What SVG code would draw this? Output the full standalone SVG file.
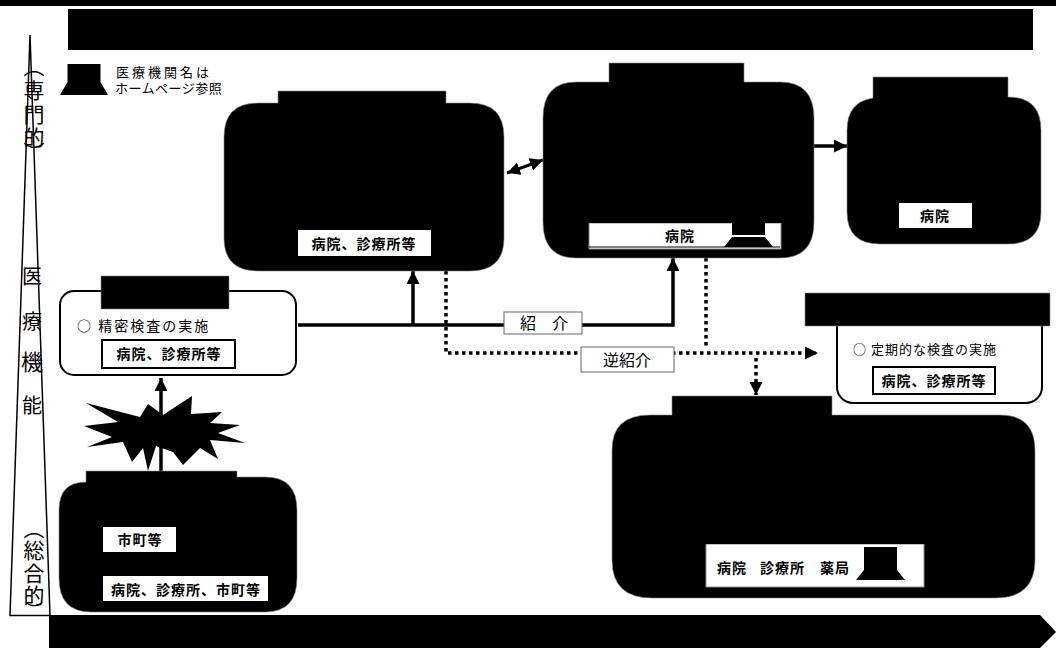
<svg xmlns="http://www.w3.org/2000/svg" width="1056" height="648" viewBox="0 0 1056 648">
<style>
text{font-family:"Noto Sans CJK JP","Liberation Sans",sans-serif;fill:#000}
.b{font-weight:700;font-size:14px;letter-spacing:1px;text-anchor:middle}
.n{font-size:14px;letter-spacing:2px}
.v{font-size:21px;text-anchor:middle}
.k{fill:#000;stroke:#888;stroke-width:.6}
.w{fill:#fff}
.o{fill:#fff;stroke:#000;stroke-width:2}
.c{fill:none;stroke:#000;stroke-width:3.500}
.d{fill:none;stroke:#000;stroke-width:3.500;stroke-dasharray:3.500 3.500}
.l{fill:#fff;stroke:#666;stroke-width:1}
</style>
<defs>
<marker id="a" markerUnits="userSpaceOnUse" markerWidth="14" markerHeight="14" refX="13" refY="7" orient="auto-start-reverse"><path d="M0 0.500L13 7L0 13.500Z"/></marker>
<path id="pc" d="M-16.500 0H16.500V18L24 31H-24L-16.500 18Z"/>
</defs>
<g id="frame">
<rect width="1056" height="6" fill="#000"/>
<rect x="68" y="9" width="965" height="41" fill="#000"/>
</g>
<g id="pyramid">
<text class="v" x="34" y="74">︵</text>
<text class="v" x="34" y="98">専</text><text class="v" x="34" y="122">門</text><text class="v" x="34" y="145">的</text>
<text class="v" x="34" y="160">︶</text>
<text class="v" x="32" y="284" style="font-size:20px">医</text><text class="v" x="32" y="329" style="font-size:20px">療</text><text class="v" x="32" y="370" style="font-size:22px">機</text><text class="v" x="32" y="413" style="font-size:20px">能</text>
<text class="v" x="34" y="536">︵</text>
<text class="v" x="34" y="558">総</text><text class="v" x="34" y="581">合</text><text class="v" x="34" y="603">的</text>
<text class="v" x="34" y="617" style="font-size:18px">︶</text>
<path d="M30 35L10 615.500H50Z" fill="none" stroke="#000" stroke-width="1.500"/>
</g>
<g id="legend">
<use href="#pc" x="84" y="64"/>
<text class="n" x="116" y="77" style="letter-spacing:3px;font-size:13px">医療機関名は</text>
<text class="n" x="115" y="93" style="font-size:13px;letter-spacing:.5px">ホームページ参照</text>
</g>
<g id="connectors">
<path class="c" d="M298 325H673V258" marker-end="url(#a)"/>
<path class="c" d="M413 325V271" marker-end="url(#a)"/>
<path class="c" d="M161 472V378" marker-end="url(#a)"/>
<path class="c" style="stroke-width:3" d="M507 173L543 160" marker-start="url(#a)" marker-end="url(#a)"/>
<path class="c" d="M814 146H847" marker-end="url(#a)"/>
<path class="d" d="M446 271V353H818" marker-end="url(#a)"/>
<path class="d" d="M706 258V348"/>
<path class="d" d="M756 358V395" marker-end="url(#a)"/>
</g>
<g id="burst">
<path fill="#000" d="M86 403L140 417L148 404L163 415L192 396L191 414L222 412L210 423L240 425L218 433L245 443L210 440L218 459L200 448L183 465L173 452L156 446L148 471L143 448L132 462L123 442L87 447L112 437L84 426L118 422Z"/>
</g>
<g id="n-clinic">
<rect class="o" x="60" y="291" width="236" height="84" rx="14"/>
<rect class="k" x="101" y="276" width="128" height="33"/>
<text class="n" x="77" y="331">○ 精密検査の実施</text>
<rect class="w" x="102" y="340" width="133" height="28" stroke="#000" stroke-width="2"/>
<text class="b" x="169" y="359">病院、診療所等</text>
</g>
<g id="n-city">
<path class="k" d="M86 482V471H237V477H265Q297 477 297 510V578Q297 612 265 612H91Q59 612 59 578V510Q59 482 86 482Z"/>
<rect class="w" x="103" y="527" width="73" height="25"/>
<text class="b" x="140" y="545">市町等</text>
<rect class="w" x="103" y="576" width="165" height="25"/>
<text class="b" x="186" y="595">病院、診療所、市町等</text>
</g>
<g id="n-acute">
<path class="k" d="M278 103V91H446V103H470Q504 103 504 137V238Q504 271 470 271H258Q224 271 224 238V137Q224 103 258 103Z"/>
<rect class="w" x="298" y="230" width="133" height="26"/>
<text class="b" x="364" y="249">病院、診療所等</text>
</g>
<g id="n-recovery">
<path class="k" d="M609 82V63H744V82H780Q814 82 814 118V222Q814 258 780 258H576Q543 258 543 222V118Q543 82 576 82Z"/>
<rect class="w" x="589" y="223" width="192" height="26" stroke="#888" stroke-width="1"/>
<rect x="588" y="220" width="194" height="3" fill="#000"/>
<path d="M589 247H780" stroke="#000" stroke-width="1"/>
<text class="b" x="680" y="241">病院</text>
<path d="M732 223H765V235H732ZM732 237H765L773 247H724Z" fill="#000"/>
</g>
<g id="n-chronic">
<path class="k" d="M873 98V77H1008V97Q1041 97 1041 130V212Q1041 244 1008 244H880Q847 244 847 212V130Q847 102 873 98Z"/>
<rect class="w" x="899" y="203" width="73" height="25"/>
<text class="b" x="935" y="221">病院</text>
</g>
<g id="n-checkup">
<rect class="o" x="837" y="310" width="205" height="93" rx="16"/>
<rect class="k" x="805" y="293" width="245" height="33"/>
<text class="n" x="853" y="354" style="font-size:13px;letter-spacing:1px">○ 定期的な検査の実施</text>
<rect class="w" x="873" y="367" width="122" height="27" stroke="#000" stroke-width="2"/>
<text class="b" x="934" y="386">病院、診療所等</text>
</g>
<g id="n-home">
<path class="k" d="M672 415V396H832V415H1000Q1035 415 1035 450V560Q1035 598 995 598H652Q612 598 612 560V450Q612 415 650 415Z"/>
<rect class="w" x="706" y="544" width="218" height="43" stroke="#888" stroke-width="1"/>
<rect x="705" y="540" width="220" height="4" fill="#000"/>
<text class="b" x="717" y="573" style="text-anchor:start"><tspan x="717">病院</tspan><tspan x="760">診療所</tspan><tspan x="820">薬局</tspan></text>
<path d="M864 547H897V570L905 580H856L864 570Z" fill="#000"/>
</g>
<g id="labels">
<rect class="l" x="504" y="312" width="78" height="22"/>
<text x="544" y="329" text-anchor="middle" font-size="16">紹　介</text>
<rect class="l" x="581" y="347" width="93" height="25"/>
<text x="627" y="366" text-anchor="middle" font-size="16">逆紹介</text>
</g>
<g id="axis">
<path d="M49 615H1040L1056 632L1040 648H49Z" fill="#000"/>
</g>
</svg>
